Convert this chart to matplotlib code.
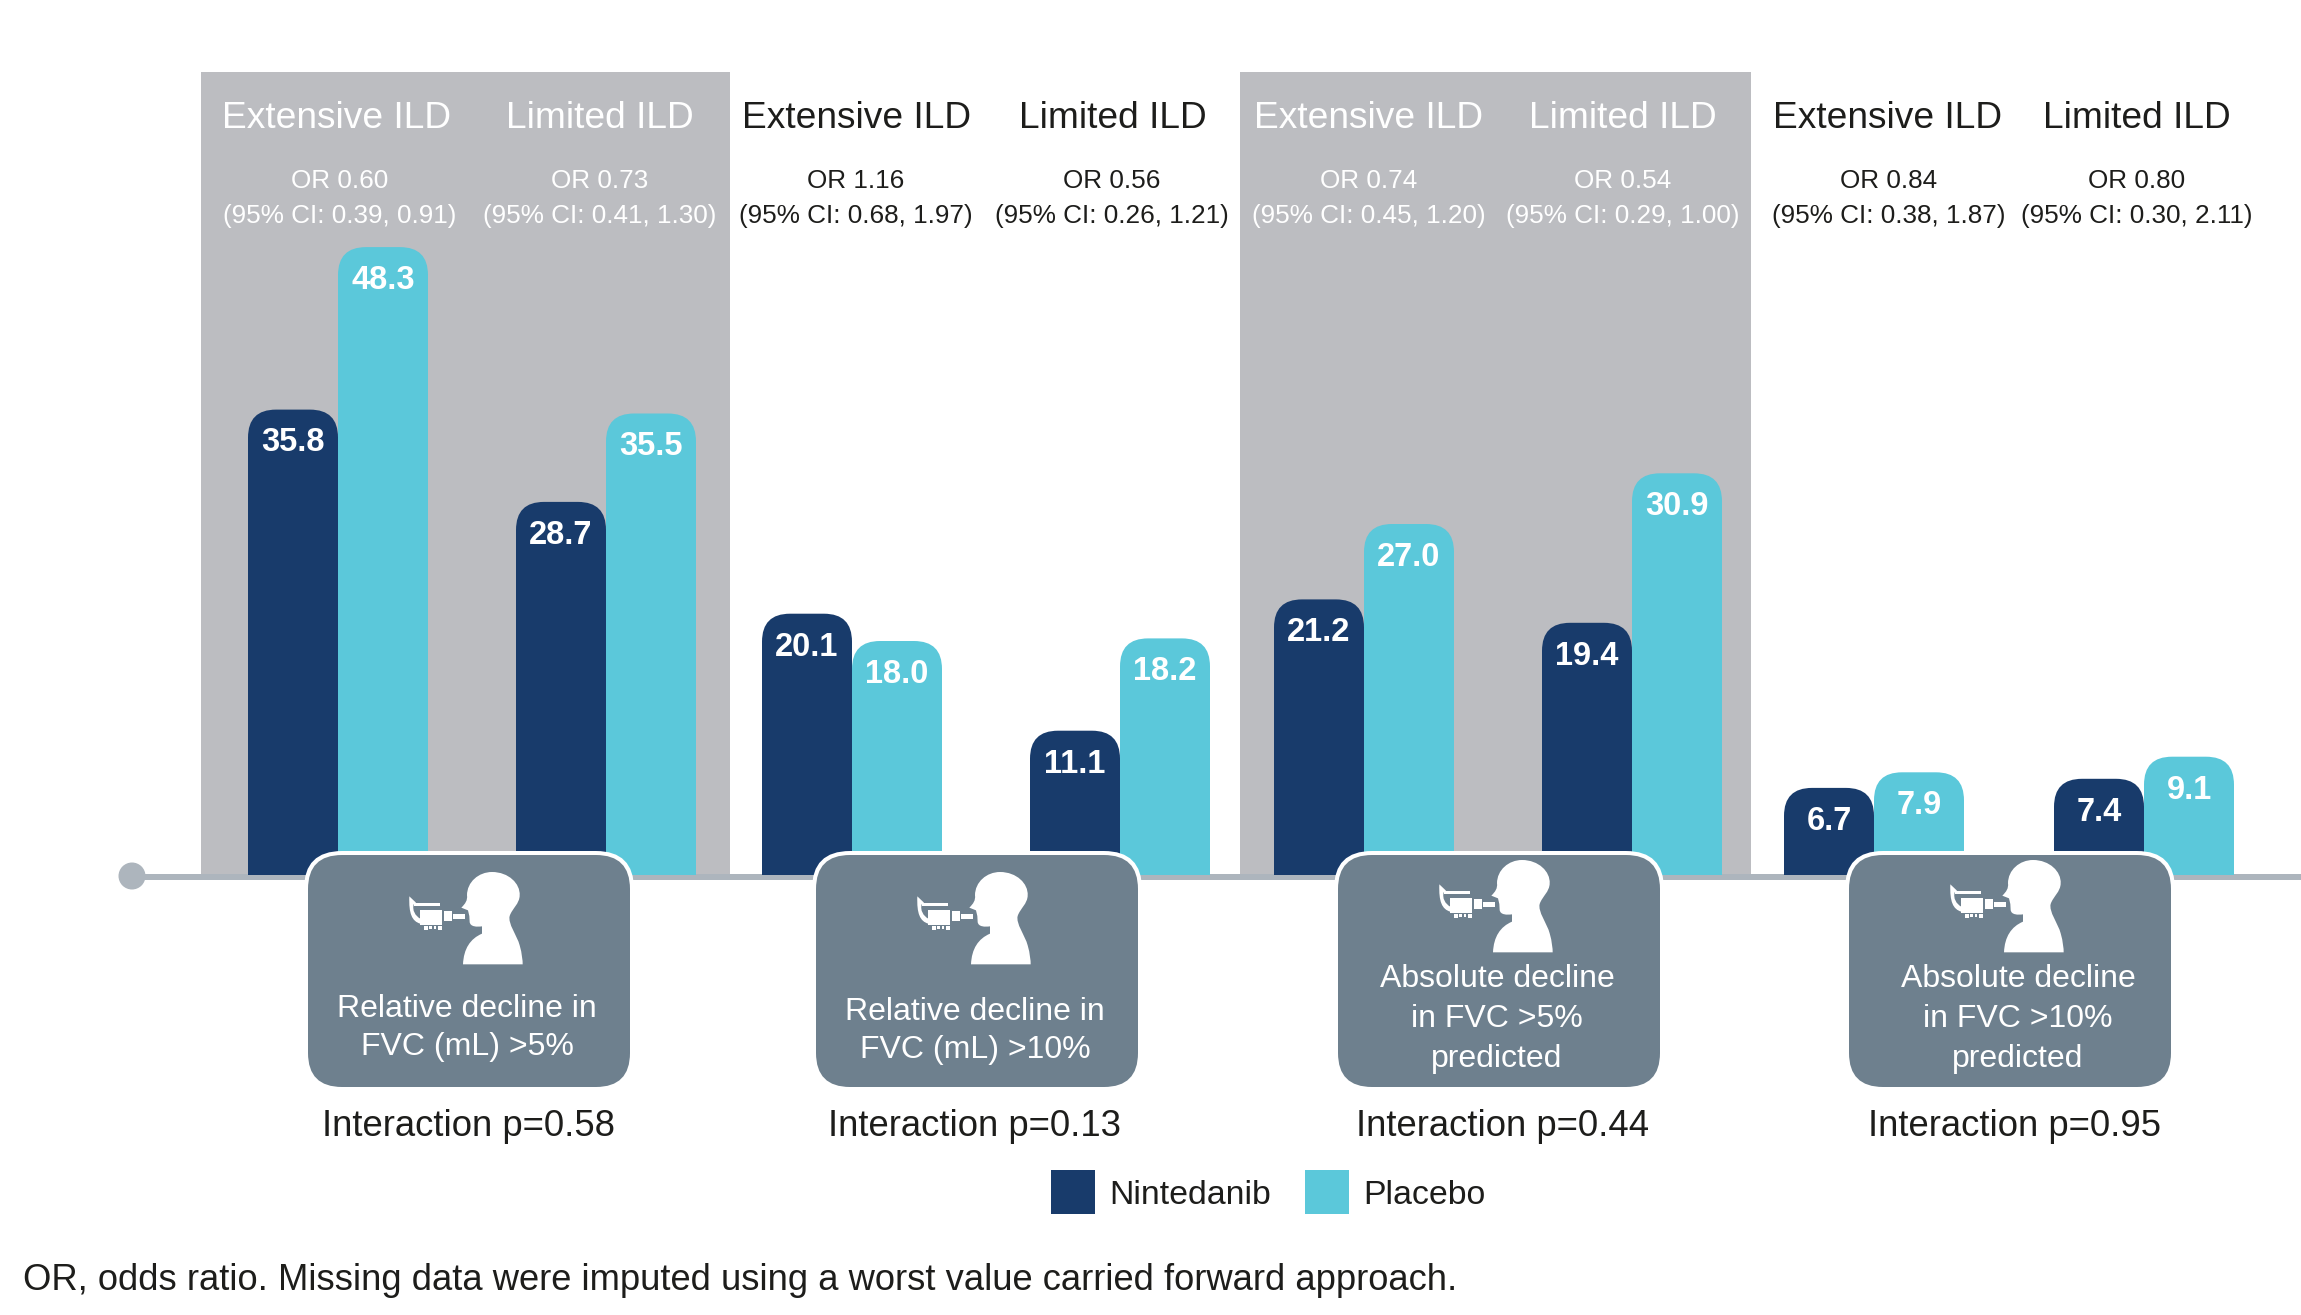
import matplotlib
matplotlib.use('Agg')
import matplotlib.pyplot as plt
from matplotlib.patches import Rectangle, FancyBboxPatch, PathPatch, Circle
from matplotlib.path import Path

W, H = 2301, 1315
DARK = '#183b6b'
LIGHT = '#5bc8da'
PANEL = '#bcbdc1'
BOX = '#6e808e'
LINE = '#adb5bd'
INK = '#1d1d1b'

plt.rcParams['font.family'] = ['Liberation Sans', 'DejaVu Sans']

# percent of patients, two subgroups per endpoint
nintedanib = [35.8, 28.7, 20.1, 11.1, 21.2, 19.4, 6.7, 7.4]
placebo = [48.3, 35.5, 18.0, 18.2, 27.0, 30.9, 7.9, 9.1]
subgroups = ['Extensive ILD', 'Limited ILD'] * 4
odds = ['OR 0.60', 'OR 0.73', 'OR 1.16', 'OR 0.56', 'OR 0.74', 'OR 0.54', 'OR 0.84', 'OR 0.80']
intervals = ['(95% CI: 0.39, 0.91)', '(95% CI: 0.41, 1.30)', '(95% CI: 0.68, 1.97)',
             '(95% CI: 0.26, 1.21)', '(95% CI: 0.45, 1.20)', '(95% CI: 0.29, 1.00)',
             '(95% CI: 0.38, 1.87)', '(95% CI: 0.30, 2.11)']
endpoints = ['Relative decline in\nFVC (mL) >5%', 'Relative decline in\nFVC (mL) >10%',
             'Absolute decline\nin FVC >5%\npredicted', 'Absolute decline\nin FVC >10%\npredicted']
interactions = ['Interaction p=0.58', 'Interaction p=0.13', 'Interaction p=0.44', 'Interaction p=0.95']

# layout, in pixels from the top left corner
bar_w = 90
bar_x = [248, 516, 762, 1030, 1274, 1542, 1784, 2054]
header_x = [337, 600, 857, 1113, 1369, 1623, 1888, 2137]
or_x = [340, 600, 856, 1112, 1369, 1623, 1889, 2137]
box_x = [308, 816, 1338, 1849]
box_icon_top = [872, 872, 860, 860]
box_text_y = [[1007, 1045], [1010, 1048], [977, 1017, 1057], [977, 1017, 1057]]
box_text_x = [467, 975, 1497, 2018]
inter_x = [468, 974, 1503, 2014]
base_y = 875
px_per_unit = 13.0


def rounded_top(x, width, height, rx, ry):
    verts = [(x, 0), (x, height - ry), (x, height), (x + rx, height),
             (x + width - rx, height), (x + width, height), (x + width, height - ry),
             (x + width, 0), (x, 0)]
    codes = [Path.MOVETO, Path.LINETO, Path.CURVE3, Path.CURVE3, Path.LINETO,
             Path.CURVE3, Path.CURVE3, Path.LINETO, Path.CLOSEPOLY]
    return Path(verts, codes)


def draw_icon(ax, cx, top):
    # head and shoulders, then the spirometer, outline units are thirds of a pixel
    ox, oy = cx - 665 / 3, top - 130 / 3

    def pt(x, y):
        return (ox + x / 3, oy + y / 3)

    def shape(verts, codes):
        ax.add_patch(PathPatch(Path([pt(*v) for v in verts], codes), fc='white', ec='none', zorder=5))

    M, L, C, Z = Path.MOVETO, Path.LINETO, Path.CURVE4, Path.CLOSEPOLY
    head = [(578, 407),
            (580, 360), (600, 330), (635, 315),
            (635, 293),
            (620, 295), (600, 295), (598, 280),
            (597, 262), (593, 245), (573, 237),
            (585, 225), (592, 215), (590, 200),
            (590, 160), (625, 130), (665, 130),
            (715, 130), (750, 165), (748, 200),
            (748, 225), (725, 240), (718, 262),
            (712, 285), (740, 320), (748, 350),
            (755, 375), (757, 395), (757, 407),
            (578, 407)]
    shape(head, [M, C, C, C, L, C, C, C, L, L, L, C, C, C, C, C, C, C, C, C, C, C, C, C, C, C, C, C, C, Z])

    hose = [(417, 203), (437, 222), (430, 227),
            (425, 245), (435, 262), (450, 270),
            (450, 285),
            (425, 278), (415, 255), (417, 203),
            (417, 203)]
    shape(hose, [M, L, L, C, C, C, L, C, C, C, Z])

    blocks = [(450, 243, 515, 290), (522, 248, 545, 278), (548, 255, 585, 270),
              (462, 293, 472, 303), (476, 293, 486, 300), (490, 293, 498, 300), (504, 293, 514, 303),
              (432, 224, 510, 233)]
    for x0, y0, x1, y1 in blocks:
        (ax0, ay0), (ax1, ay1) = pt(x0, y0), pt(x1, y1)
        ax.add_patch(Rectangle((ax0, ay0), ax1 - ax0, ay1 - ay0, fc='white', ec='none', zorder=5))


fig = plt.figure(figsize=(W / 100, H / 100), dpi=100, facecolor='white')

# grey panels sit behind the bars
back = fig.add_axes([0, 0, 1, 1], zorder=0)
back.set_xlim(0, W)
back.set_ylim(H, 0)
back.axis('off')
back.add_patch(Rectangle((201, 72), 529, base_y - 72, fc=PANEL, ec='none'))
back.add_patch(Rectangle((1240, 72), 511, base_y - 72, fc=PANEL, ec='none'))
back.add_patch(Rectangle((131, base_y - 1), W - 131, 6, fc=LINE, ec='none'))
back.add_patch(Circle((132, 876), 13.5, fc=LINE, ec='none'))

# bars, y axis in percent
ax = fig.add_axes([0, 0, 1, 1], zorder=1)
ax.set_xlim(0, W)
ax.set_ylim(-(H - base_y) / px_per_unit, base_y / px_per_unit)
ax.axis('off')
ry = 28 / px_per_unit
for i in range(len(bar_x)):
    for j, (val, col) in enumerate([(nintedanib[i], DARK), (placebo[i], LIGHT)]):
        x = bar_x[i] + j * bar_w
        ax.add_patch(PathPatch(rounded_top(x, bar_w, val, 28, ry), fc=col, ec='none'))
        ax.annotate(f'{val:.1f}', (x + bar_w / 2, val), xytext=(0, -24), textcoords='offset points',
                    ha='center', va='center', color='white', fontsize=23.5, fontweight='bold')

# labels and endpoint boxes
top = fig.add_axes([0, 0, 1, 1], zorder=2)
top.set_xlim(0, W)
top.set_ylim(H, 0)
top.axis('off')
top.patch.set_alpha(0)

for i in range(len(subgroups)):
    col = 'white' if i in (0, 1, 4, 5) else INK
    top.text(header_x[i], 118, subgroups[i], ha='center', va='center', color=col, fontsize=26.7)
    top.text(or_x[i], 181, odds[i], ha='center', va='center', color=col, fontsize=18.8)
    top.text(or_x[i], 216, intervals[i], ha='center', va='center', color=col, fontsize=18.8)

for i in range(len(box_x)):
    x = box_x[i]
    top.add_patch(FancyBboxPatch((x - 4 + 32, 851 + 32), 330 - 64, 240 - 64,
                                 boxstyle='round,pad=32,rounding_size=38', fc='white', ec='none', zorder=3))
    top.add_patch(FancyBboxPatch((x + 32, 855 + 32), 322 - 64, 232 - 64,
                                 boxstyle='round,pad=32,rounding_size=34', fc=BOX, ec='none', zorder=4))
    draw_icon(top, x + 184, box_icon_top[i])
    for line, y in zip(endpoints[i].split('\n'), box_text_y[i]):
        top.text(box_text_x[i], y + 2, line, ha='center', va='center', color='white', fontsize=23, zorder=6)
    top.text(inter_x[i], 1126, interactions[i], ha='center', va='center', color=INK, fontsize=26.3)

# legend
top.add_patch(Rectangle((1051, 1170), 44, 44, fc=DARK, ec='none'))
top.add_patch(Rectangle((1305, 1170), 44, 44, fc=LIGHT, ec='none'))
top.text(1109, 1196, 'Nintedanib', ha='left', va='center', color=INK, fontsize=24.4)
top.text(1363, 1196, 'Placebo', ha='left', va='center', color=INK, fontsize=24.4)

top.text(23, 1281, 'OR, odds ratio. Missing data were imputed using a worst value carried forward approach.',
         ha='left', va='center', color=INK, fontsize=26.2)

fig.savefig('out.png', dpi=100)
